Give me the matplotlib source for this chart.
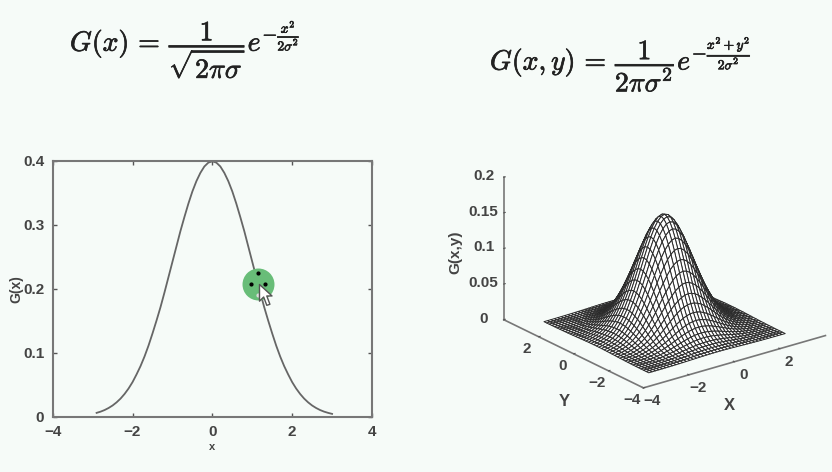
import numpy as np
import matplotlib
matplotlib.use('Agg')
import matplotlib.pyplot as plt
import matplotlib.patheffects as pe
from matplotlib.path import Path

plt.rcParams['font.family'] = ['Liberation Sans', 'DejaVu Sans']
plt.rcParams['mathtext.fontset'] = 'cm'

# curve, x >= 0 half in 0.1 steps (it is symmetric)
half_x = [0.0, 0.1, 0.2, 0.3, 0.4, 0.5, 0.6, 0.7, 0.8, 0.9, 1.0, 1.1, 1.2, 1.3, 1.4, 1.5,
          1.6, 1.7, 1.8, 1.9, 2.0, 2.1, 2.2, 2.3, 2.4, 2.5, 2.6, 2.7, 2.8, 2.9, 3.0]
half_g = [0.399, 0.397, 0.391, 0.381, 0.368, 0.352, 0.333, 0.312, 0.290, 0.266, 0.242,
          0.218, 0.194, 0.171, 0.150, 0.130, 0.111, 0.094, 0.079, 0.066, 0.054, 0.044,
          0.0355, 0.0283, 0.0224, 0.0175, 0.0136, 0.0104, 0.0079, 0.0060, 0.0044]
marker_x = [1.14]
marker_y = [0.207]

# profile of the mesh along one side, 0.15 steps from 0 to 3, mirrored below
mesh_half_x = [0.0, 0.15, 0.3, 0.45, 0.6, 0.75, 0.9, 1.05, 1.2, 1.35, 1.5, 1.65, 1.8, 1.95, 2.1, 2.25, 2.4, 2.55, 2.7, 2.85, 3.0]
mesh_half_g = [0.399, 0.3945, 0.381, 0.3605, 0.333, 0.301, 0.266, 0.230, 0.194, 0.160, 0.130, 0.102, 0.079, 0.060, 0.044,
               0.032, 0.022, 0.0154, 0.0104, 0.0069, 0.0044]

left_xticks = [-4, -2, 0, 2, 4]
left_yticks = [0, 0.1, 0.2, 0.3, 0.4]
left_ylabels = ['0', '0.1', '0.2', '0.3', '0.4']
x3d_ticks = [-4, -2, 0, 2]
y3d_ticks = [-4, -2, 0, 2]
z3d_ticks = [0, 0.05, 0.1, 0.15, 0.2]
z3d_labels = ['0', '0.05', '0.1', '0.15', '0.2']

BG = '#f6fbf8'
TXT = '#444444'
W, H = 832, 472

fig = plt.figure(figsize=(8.32, 4.72), dpi=100, facecolor=BG)

# formulas
heavy = [pe.withStroke(linewidth=0.5, foreground='#222222')]
fig.text(70 / W, 1 - 50 / H, r'$G(x)\,=\,\dfrac{1}{\sqrt{2\pi\sigma}}e^{-\frac{x^2}{2\sigma^2}}$',
         fontsize=20, color='#222222', ha='left', va='center', path_effects=heavy)
fig.text(490 / W, 1 - 65 / H, r'$G(x,y)\,=\,\dfrac{1}{2\pi\sigma^2}e^{-\frac{x^2+y^2}{2\sigma^2}}$',
         fontsize=20, color='#222222', ha='left', va='center', path_effects=heavy)

# left plot
ax = fig.add_axes([52.7 / W, (H - 416.7) / H, 319.3 / W, 256 / H], facecolor=BG)
xs = -np.array(half_x[:0:-1])
x_all = np.concatenate([xs[1:], half_x])
y_all = np.concatenate([half_g[:0:-1][1:], half_g])
ax.plot(x_all, y_all, color='#666666', lw=1.3)
ax.set_xlim(-4, 4)
ax.set_ylim(0, 0.4)
ax.set_xticks(left_xticks)
ax.set_yticks(left_yticks)
ax.set_yticklabels(left_ylabels)
ax.tick_params(direction='in', top=True, right=True, length=3, width=1, color='#555555',
               labelsize=11, labelcolor=TXT, pad=6)
for t in ax.get_xticklabels() + ax.get_yticklabels():
    t.set_fontweight('bold')
for s in ax.spines.values():
    s.set_color('#777777')
    s.set_linewidth(1.5)
ax.set_xlabel('x', fontsize=8, color=TXT, fontweight='bold', labelpad=2)
ax.set_ylabel('G(x)', fontsize=10, color=TXT, fontweight='bold', labelpad=0)

# green highlight + cursor
ax.scatter(marker_x, marker_y, s=530, color='#68bd78', zorder=3, linewidths=0)
ax.plot(marker_x[0] - 0.17, marker_y[0], 'o', color='k', ms=2, zorder=4)
ax.plot(marker_x[0] + 0.17, marker_y[0], 'o', color='k', ms=2, zorder=4)
ax.plot(marker_x[0], marker_y[0] + 0.017, 'o', color='k', ms=2, zorder=4)
ax.plot(marker_x[0], marker_y[0] - 0.017, 'o', color='#dddddd', ms=2, zorder=4)
cursor = Path([(0, 0), (0, -16), (4, -12), (7, -20), (10, -19), (7, -11), (12, -11), (0, 0)], closed=True)
ax.plot(marker_x[0] + 0.02, marker_y[0], marker=cursor, ms=30, mfc='white', mec='#555555', mew=1, zorder=5)

# right plot
ax3 = fig.add_axes([(660 - 170) / W, (H - 261 - 170) / H, 340 / W, 340 / H], projection='3d',
                   proj_type='ortho', facecolor='none')
ax3.view_init(elev=22, azim=-127.5)
ax3.set_box_aspect((227, 227, 152), zoom=1.025)
mesh_x = np.concatenate([-np.array(mesh_half_x[:0:-1]), mesh_half_x])
mesh_g = np.concatenate([mesh_half_g[:0:-1], mesh_half_g])
X, Y = np.meshgrid(mesh_x, mesh_x)
Z = np.outer(mesh_g, mesh_g)
ax3.plot_surface(X, Y, Z, rstride=1, cstride=1, color='white', edgecolor='#2a2a2a', linewidth=0.7, shade=False)
ax3.set_xlim(-4, 4, view_margin=0)
ax3.set_ylim(-4, 4, view_margin=0)
ax3.set_zlim(0, 0.2, view_margin=0)
ax3.set_xticks(x3d_ticks)
ax3.set_yticks(y3d_ticks)
ax3.set_zticks(z3d_ticks)
ax3.set_zticklabels(z3d_labels)
ax3.grid(False)
for a in (ax3.xaxis, ax3.yaxis, ax3.zaxis):
    a.set_pane_color((1, 1, 1, 0))
    a.pane.set_edgecolor('none')
    a.line.set_color('#777777')
    a.line.set_linewidth(1.2)
    a._axinfo['tick']['inward_factor'] = 0.0
    a._axinfo['tick']['outward_factor'] = 0.1
    a.set_tick_params(colors='#555555', labelsize=11, labelcolor=TXT, pad=0)
    for tk in a.get_major_ticks():
        tk.label1.set_va('center')
        tk.label1.set_fontweight('bold')

fig.text(729 / W, 1 - 405 / H, 'X', fontsize=12, color=TXT, fontweight='bold', ha='center', va='center')
fig.text(564 / W, 1 - 401 / H, 'Y', fontsize=12, color=TXT, fontweight='bold', ha='center', va='center')
fig.text(455 / W, 1 - 252 / H, 'G(x,y)', fontsize=11, color=TXT, fontweight='bold', rotation=90, ha='center', va='center')

fig.savefig('out.png', dpi=100, facecolor=BG)
